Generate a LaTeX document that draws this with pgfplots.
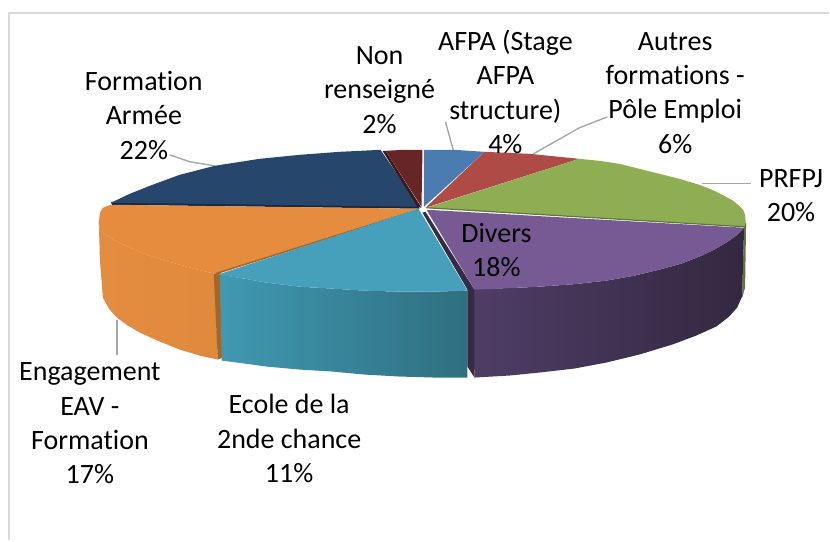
\documentclass[border=0pt]{standalone}
\usepackage{fontspec}
\setmainfont{Carlito}[Ligatures=NoCommon]
\usepackage{pgfplots}
\pgfplotsset{compat=1.18}
\definecolor{fr}{HTML}{D9D9D9}
\definecolor{ld}{HTML}{A6A6A6}
\definecolor{greenside}{HTML}{5F7638}
\definecolor{orangeA}{HTML}{E48C3F}
\definecolor{orangeB}{HTML}{E08A3E}
\definecolor{orangeC}{HTML}{A5662B}
\definecolor{orangeT}{HTML}{E58C3E}
\definecolor{tealA}{HTML}{4099B2}
\definecolor{tealB}{HTML}{2F6F80}
\definecolor{tealT}{HTML}{46A0BB}
\definecolor{purpleA}{HTML}{4F3D66}
\definecolor{purpleM}{HTML}{3B2E4B}
\definecolor{purpleB}{HTML}{332840}
\definecolor{purpleC}{HTML}{362A45}
\definecolor{purpleT}{HTML}{775A94}
\definecolor{navyC}{HTML}{152A42}
\definecolor{navyT}{HTML}{26466B}
\definecolor{redC}{HTML}{3F1717}
\definecolor{redT}{HTML}{672525}
\definecolor{redM}{HTML}{AE4B47}
\definecolor{blueT}{HTML}{4A7CB2}
\definecolor{greenT}{HTML}{8FAE54}
\definecolor{greenC}{HTML}{5F7638}
\tikzset{lab/.style={font=\fontsize{28}{34.4}\selectfont,align=center,text=black,inner sep=0pt}}
\begin{document}
\begin{tikzpicture}
\begin{axis}[
  width=830pt,height=541pt,scale only axis,
  xmin=0,xmax=830,ymin=0,ymax=541,y dir=reverse,
  hide axis,clip=false,
]
% page extent
\addplot[draw=none] coordinates {(0,0)(830,541)};
% frame
\addplot[fr,line width=2pt] coordinates {(9,541)(9,13)(830,13)};
% leaders
\addplot[ld,line width=1.4pt] coordinates {(170,155)(190,162)(215,166)};
\addplot[ld,line width=1.4pt] coordinates {(446,122)(454,151)};
\addplot[ld,line width=1.4pt] coordinates {(534,154)(580,128)(608,117)};
\addplot[ld,line width=1.4pt] coordinates {(703,184)(752,184)};
\addplot[ld,line width=1.4pt] coordinates {(117,320)(117,355)};
% green side sliver
\addplot[fill=greenside,draw=none] coordinates {(745,226)(747,222)(746,288)(743,298)};
% orange side
\addplot[draw=none,left color=orangeA,right color=orangeB] coordinates {(99,223)(100,230)(106,235)(113,240)(130,248)(147,255)(165,261)(180,265)(198,270)(215,274)(218,360)(200,356)(180,350)(160,342)(140,333)(128,326)(117,318)(109,309)(103,298)(100,260)};
\addplot[fill=orangeC,draw=none] coordinates {(214,274)(221,273)(223,358)(218,360)};
% teal side
\addplot[draw=none,left color=tealA,right color=tealB] coordinates {(220,275)(245,279)(267,283)(300,287)(333,289)(365,291)(400,292)(435,292)(468,291)(468,378)(435,378)(400,377)(365,375)(333,372)(300,370)(267,367)(245,364)(222,361)};
% purple side
\addplot[draw=none,left color=purpleA,middle color=purpleM,right color=purpleB] coordinates {(473,289)(510,288.5)(540,287)(575,284.5)(607,281)(635,276)(660,270)(682,264)(700,257)(715,250)(727,243)(737,236)(745,228)(743,297)(738,308)(730,317)(717,327)(697,336)(673,345)(640,355)(607,363)(575,369)(540,373)(510,376)(475,378)};
\addplot[fill=purpleC,draw=none] coordinates {(426,212)(475,290)(475,378)(468,367)(468,290)(423,213)};
% top faces
\addplot[fill=navyC,draw=none] coordinates {(111,202)(419,205)(420,209)(112,205)};
\addplot[fill=navyT,draw=none] coordinates {(420,207)(111,203)(130,194)(150,186)(180,175)(215,166)(260,159)(300,155)(340,152)(381,150)};
\addplot[fill=redC,draw=none] coordinates {(383,151)(386,151)(422,208)(418,207)};
\addplot[fill=redT,draw=none] coordinates {(422,207)(386,151)(404,150)(423,150)};
\addplot[fill=orangeT,draw=none] coordinates {(418,209)(111,205)(103,208)(100,213)(99,223)(100,230)(106,235)(113,240)(130,248)(147,255)(165,261)(180,265)(198,270)(215,274)};
\addplot[draw=orangeC,line width=1.6pt] coordinates {(418,210)(216,274)};
\addplot[fill=blueT,draw=none] coordinates {(424.5,207)(424.5,150)(455,150)(485,152)};
\addplot[fill=redM,draw=none] coordinates {(426,208)(485,152)(530,154)(580,159)};
\addplot[fill=greenT,draw=none] coordinates {(427,208)(580,159)(600,161)(620,164)(640,169)(660,174)(680,179)(700,185)(713,190)(725,196)(734,201)(740,206)(744,210)(746,215)(746.5,222)(745,227)};
\addplot[draw=greenC,line width=1.2pt] coordinates {(427,208)(745,227)};
\addplot[fill=tealT,draw=none] coordinates {(419,209)(218,275)(245,279)(267,283)(300,287)(333,289)(365,291)(400,292)(435,292)(468,291)};
\addplot[fill=purpleT,draw=none] coordinates {(427,210)(745,228)(737,236)(727,243)(715,250)(700,257)(682,264)(660,270)(635,276)(607,281)(575,284.5)(540,287)(510,288.5)(475,290)};
% labels
\node[lab] at (axis cs:380,90) {Non\\renseigné\\2\%};
\node[lab] at (axis cs:506,92) {AFPA (Stage\\AFPA\\structure)\\4\%};
\node[lab] at (axis cs:676,93) {Autres\\formations -\\Pôle Emploi\\6\%};
\node[lab] at (axis cs:792,196) {PRFPJ\\20\%};
\node[lab] at (axis cs:497,250.5) {Divers\\18\%};
\node[lab] at (axis cs:144,115.5) {Formation\\Armée\\22\%};
\node[lab] at (axis cs:90,424) {Engagement\\EAV -\\Formation\\17\%};
\node[lab] at (axis cs:289.5,439) {Ecole de la\\2nde chance\\11\%};
\end{axis}
\end{tikzpicture}
\end{document}
